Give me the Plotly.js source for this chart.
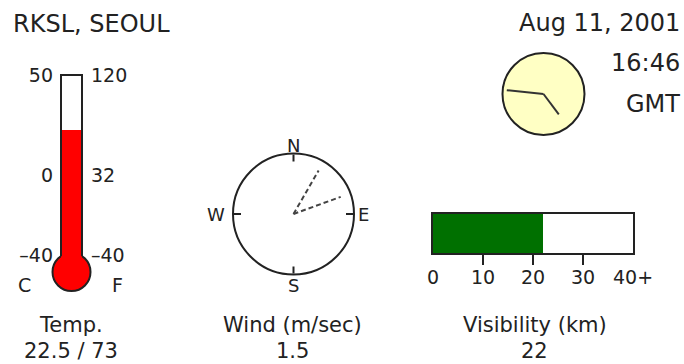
<!DOCTYPE html>
<html>
<head>
<meta charset="utf-8">
<script src="https://cdn.plot.ly/plotly-3.0.1.min.js"></script>
<style>html,body{margin:0;padding:0;background:#fff;}#chart{width:684px;height:364px;}</style>
</head>
<body>
<div id="chart"></div>
<script>
// ---- data ----
const stationName = 'RKSL, SEOUL';
const obsDate = 'Aug 11, 2001';
const obsTime = '16:46';
const timeZone = 'GMT';

const tempC = [22.5];
const tempF = [73];
const tempTickVals = [50, 0, -40];
const tempTickLabelsC = ['50', '0', '\u201340'];
const tempTickLabelsF = ['120', '32', '\u201340'];

const windSpeed = [1.5];
const windDirections = [30, 70];
const compassAngles = [0, 90, 180, 270];
const compassLabels = ['N', 'E', 'S', 'W'];

const visibilityKm = [22];
const visTickVals = [0, 10, 20, 30, 40];
const visTickLabels = ['0', '10', '20', '30', '40+'];
const visMarkTicks = [10, 20, 30];

// ---- helpers ----
const W = 684, H = 364;
const px = v => v / W;
const py = v => (H - v) / H;
const ink = '#222';
const FONT = 'DejaVu Sans';

const [hh, mm] = obsTime.split(':').map(Number);
const minuteAngle = mm * 6;
const hourAngle = ((hh % 12) + mm / 60) * 30;

const bulbCenter = -48.5;

const traces = [
  // thermometer column
  {type: 'bar', x: [0], y: tempC.map(t => t - bulbCenter), base: [bulbCenter], width: 1,
   marker: {color: '#ff0000', line: {width: 0}}, xaxis: 'x', yaxis: 'y', hoverinfo: 'skip'},
  // visibility bar
  {type: 'bar', orientation: 'h', x: visibilityKm, y: [0], width: 1,
   marker: {color: '#007000', line: {width: 0}}, xaxis: 'x2', yaxis: 'y2', hoverinfo: 'skip'},
  // invisible anchors for overlay label axes
  {type: 'scatter', x: [0], y: [0], mode: 'markers', marker: {opacity: 0}, xaxis: 'x3', yaxis: 'y2', hoverinfo: 'skip'},
  {type: 'scatter', x: [0], y: [0], mode: 'markers', marker: {opacity: 0}, xaxis: 'x', yaxis: 'y3', hoverinfo: 'skip'}
];
// wind direction lines
windDirections.forEach(d => traces.push({
  type: 'scatterpolar', subplot: 'polar', r: [0, 0.83], theta: [0, d], mode: 'lines',
  line: {color: '#444', width: 2, dash: '5px,3px'}, hoverinfo: 'skip'
}));
// clock hands
traces.push({type: 'scatterpolar', subplot: 'polar2', r: [0, 0.9], theta: [0, minuteAngle], mode: 'lines',
  line: {color: '#333', width: 2}, hoverinfo: 'skip'});
traces.push({type: 'scatterpolar', subplot: 'polar2', r: [0, 0.62], theta: [0, hourAngle], mode: 'lines',
  line: {color: '#333', width: 2}, hoverinfo: 'skip'});

const ann = (text, x, y, xanchor, size) => ({
  text, x: px(x), y: py(y), xref: 'paper', yref: 'paper', xanchor, yanchor: 'middle',
  showarrow: false, font: {family: FONT, size, color: ink}
});

// compass label positions (pixel centres)
const compassLabelPos = {N: [293.5, 145], E: [363, 214], S: [293.5, 285], W: [216, 214]};

const layout = {
  width: W, height: H,
  margin: {l: 0, r: 0, t: 0, b: 0, pad: 0},
  paper_bgcolor: '#ffffff', plot_bgcolor: 'rgba(0,0,0,0)',
  showlegend: false,
  font: {family: FONT, color: ink},
  // thermometer
  xaxis: {domain: [px(49.5), px(93.5)], range: [-22 / 21, 22 / 21], visible: false, fixedrange: true},
  yaxis: {domain: [py(295), py(70)], range: [-60, 52.5], anchor: 'free', position: px(61),
    tickvals: tempTickVals, ticktext: tempTickLabelsC, ticks: '', showline: false, showgrid: false,
    zeroline: false, ticklabelstandoff: 8, tickfont: {size: 19, color: ink}},
  yaxis3: {overlaying: 'y', side: 'right', anchor: 'free', position: px(82), range: [-60, 52.5],
    tickvals: tempTickVals, ticktext: tempTickLabelsF, ticks: '', showline: false, showgrid: false,
    zeroline: false, ticklabelstandoff: 8, tickfont: {size: 19, color: ink}},
  // visibility
  xaxis2: {domain: [px(433), px(633)], anchor: 'y2', range: [0, 40], showline: true, mirror: true,
    linecolor: ink, linewidth: 2, tickvals: visMarkTicks, ticks: 'outside', ticklen: 10, tickwidth: 2,
    tickcolor: ink, showticklabels: false, showgrid: false, zeroline: false},
  xaxis3: {overlaying: 'x2', anchor: 'y2', side: 'bottom', range: [0, 40], tickvals: visTickVals,
    ticktext: visTickLabels, ticks: '', showline: false, showgrid: false, zeroline: false,
    ticklabelstandoff: 11, tickfont: {size: 19, color: ink}},
  yaxis2: {domain: [py(253), py(214)], anchor: 'x2', range: [-0.5, 0.5], showline: true, mirror: true,
    linecolor: ink, linewidth: 2, showticklabels: false, ticks: '', showgrid: false, zeroline: false},
  // compass
  polar: {
    domain: {x: [px(233), px(354)], y: [py(274.5), py(153.5)]},
    bgcolor: 'rgba(0,0,0,0)',
    radialaxis: {visible: false, range: [0, 1]},
    angularaxis: {rotation: 90, direction: 'clockwise', tickmode: 'array', tickvals: compassAngles,
      showticklabels: false, ticks: 'inside', ticklen: 7, tickwidth: 2, tickcolor: ink,
      showline: true, linecolor: ink, linewidth: 2, showgrid: false}
  },
  // clock
  polar2: {
    domain: {x: [px(502), px(585)], y: [py(135), py(53)]},
    bgcolor: '#ffffc4',
    radialaxis: {visible: false, range: [0, 1]},
    angularaxis: {rotation: 90, direction: 'clockwise', showticklabels: false, ticks: '',
      showline: true, linecolor: ink, linewidth: 2, showgrid: false}
  },
  shapes: [
    {type: 'circle', xref: 'x', yref: 'y', x0: -0.905, x1: 0.905, y0: bulbCenter - 9.5, y1: bulbCenter + 9.5,
     fillcolor: '#ff0000', line: {color: ink, width: 2}, layer: 'below'},
    {type: 'path', xref: 'x', yref: 'y', path: 'M -0.5,-40.6 L -0.5,50 L 0.5,50 L 0.5,-40.6',
     line: {color: ink, width: 2}, layer: 'above'}
  ],
  annotations: [
    ann(stationName, 11, 24, 'left', 24),
    ann(obsDate, 682, 23, 'right', 24),
    ann(obsTime, 682, 63, 'right', 24),
    ann(timeZone, 682, 104, 'right', 24),
    ann('C', 24, 285, 'center', 19),
    ann('F', 117, 285, 'center', 19),
    ann('Temp.', 71, 325, 'center', 21),
    ann(tempC[0] + ' / ' + tempF[0], 71, 351, 'center', 21),
    ann('Wind (m/sec)', 292, 325, 'center', 21),
    ann(String(windSpeed[0]), 292, 351, 'center', 21),
    ann('Visibility (km)', 535, 325, 'center', 21),
    ann(String(visibilityKm[0]), 534, 351, 'center', 21)
  ].concat(compassLabels.map(l => ann(l, compassLabelPos[l][0], compassLabelPos[l][1], 'center', 18)))
};

Plotly.newPlot('chart', traces, layout, {staticPlot: true, displayModeBar: false});
</script>
</body>
</html>
